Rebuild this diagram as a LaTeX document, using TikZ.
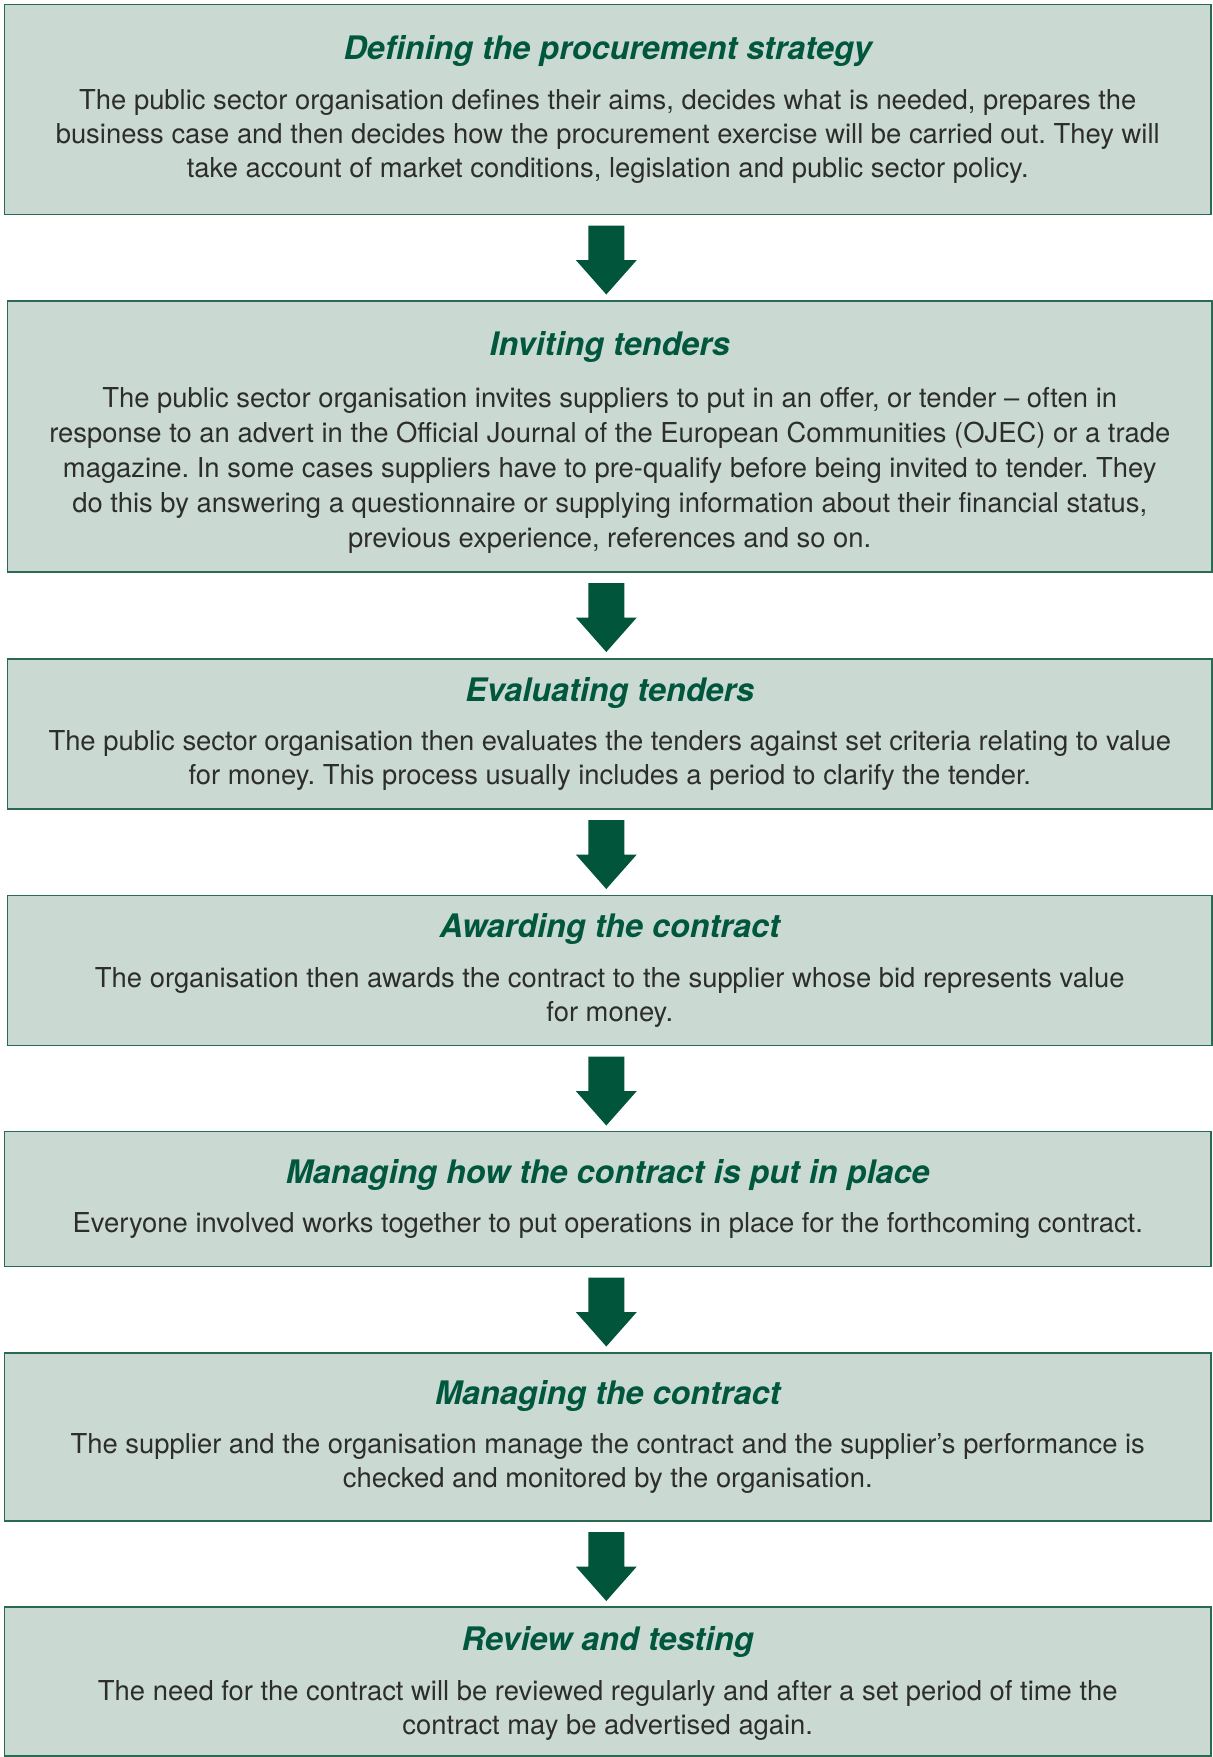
\documentclass[tikz,border=0pt]{standalone}
\usepackage{fontspec}
\setmainfont{TeX Gyre Heros}
\usetikzlibrary{calc}
\definecolor{boxfill}{HTML}{CADAD3}
\definecolor{boxline}{HTML}{2A6A52}
\definecolor{arrowgreen}{HTML}{00553B}
\definecolor{titlegreen}{HTML}{00573D}
\definecolor{bodygray}{HTML}{2D2D2D}
\newcommand{\stagetitle}{\fontsize{16.2}{17}\selectfont\bfseries\itshape\color{titlegreen}}
\frenchspacing
\begin{document}
\frenchspacing
\begin{tikzpicture}[x=0.5pt,y=-0.5pt,
  stage/.style={draw=boxline, line width=0.8pt, fill=boxfill, inner sep=0pt, outer sep=0pt, minimum width=603.25pt},
  stagetext/.style={align=center, inner sep=0pt, text=bodygray, font=\fontsize{13.7}{17}\selectfont\frenchspacing},
  widetext/.style={stagetext, font=\fontsize{13.7}{17.5}\selectfont\frenchspacing},
  downarrow/.pic={\fill[arrowgreen] (-18,11) -- (18,11) -- (18,45.5) -- (30.5,45.5) -- (0,80) -- (-30.5,45.5) -- (-18,45.5) -- cycle;}]
\useasboundingbox (0,0) rectangle (1213,1757);
\coordinate (axis) at (606.3,0);
% boxes
\node[stage, minimum height=105pt] (b1) at (607.75,109.5) {};
\node[stage, minimum height=135.5pt, minimum width=602.25pt] (b2) at (609.75,436.5) {};
\node[stage, minimum height=75pt, minimum width=602.25pt] (b3) at (609.75,734) {};
\node[stage, minimum height=75pt, minimum width=602.25pt] (b4) at (609.75,970.5) {};
\node[stage, minimum height=67.5pt] (b5) at (607.75,1199) {};
\node[stage, minimum height=84pt] (b6) at (607.75,1437) {};
\node[stage, minimum height=74.5pt] (b7) at (607.75,1681.5) {};
% texts
\node[stagetext] (t1) at (b1.center) {{\stagetitle Defining the procurement strategy}\\[7.9pt]
The public sector organisation defines their aims, decides what is needed, prepares the\\
business case and then decides how the procurement exercise will be carried out. They will\\
take account of market conditions, legislation and public sector policy.};
\node[widetext] (t2) at ($(b2.center)+(0,6)$) {{\stagetitle Inviting tenders}\\[8.6pt]
The public sector organisation invites suppliers to put in an offer, or tender – often in\\
response to an advert in the Official Journal of the European Communities (OJEC) or a trade\\
magazine. In some cases suppliers have to pre-qualify before being invited to tender. They\\
do this by answering a questionnaire or supplying information about their financial status,\\
previous experience, references and so on.};
\node[stagetext] (t3) at (b3.center) {{\stagetitle Evaluating tenders}\\[7.8pt]
The public sector organisation then evaluates the tenders against set criteria relating to value\\
for money. This process usually includes a period to clarify the tender.};
\node[stagetext] (t4) at (b4.center) {{\stagetitle Awarding the contract}\\[7.8pt]
The organisation then awards the contract to the supplier whose bid represents value\\
for money.};
\node[stagetext] (t5) at (b5.center) {{\stagetitle Managing how the contract is put in place}\\[7.8pt]
Everyone involved works together to put operations in place for the forthcoming contract.};
\node[stagetext] (t6) at (b6.center) {{\stagetitle Managing the contract}\\[7.8pt]
The supplier and the organisation manage the contract and the supplier’s performance is\\
checked and monitored by the organisation.};
\node[stagetext] (t7) at ($(b7.center)+(0,2)$) {{\stagetitle Review and testing}\\[7.8pt]
The need for the contract will be reviewed regularly and after a set period of time the\\
contract may be advertised again.};
% arrows
\pic at (b1.south -| axis) {downarrow};
\pic at (b2.south -| axis) {downarrow};
\pic at (b3.south -| axis) {downarrow};
\pic at (b4.south -| axis) {downarrow};
\pic at (b5.south -| axis) {downarrow};
\pic at (b6.south -| axis) {downarrow};
\end{tikzpicture}
\end{document}
